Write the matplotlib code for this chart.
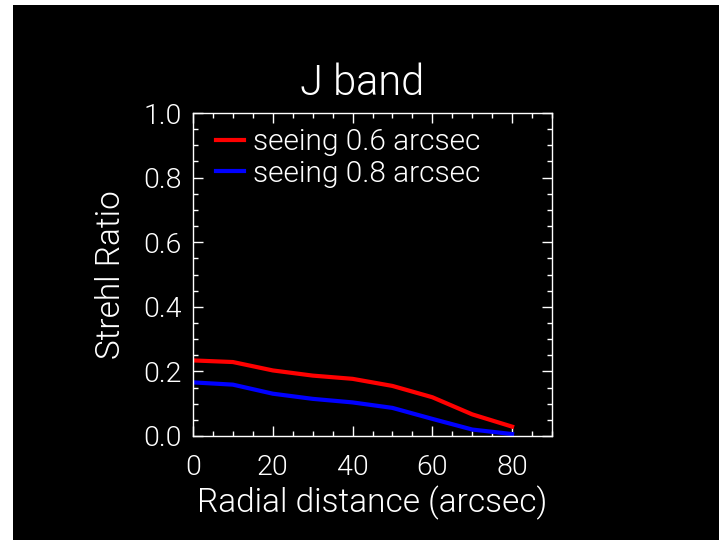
import matplotlib.pyplot as plt
from matplotlib.patches import Rectangle
from matplotlib.ticker import MultipleLocator

# Strehl ratio vs radial distance, J band
radius = [0, 10, 20, 30, 40, 50, 60, 70, 80]
strehl_06 = [0.234, 0.229, 0.203, 0.187, 0.177, 0.155, 0.120, 0.067, 0.029]
strehl_08 = [0.166, 0.159, 0.131, 0.115, 0.104, 0.087, 0.053, 0.020, 0.006]
labels = ['seeing 0.6 arcsec', 'seeing 0.8 arcsec']

plt.rcParams['font.family'] = ['Roboto', 'DejaVu Sans']
plt.rcParams['font.weight'] = 300
plt.rcParams['axes.labelweight'] = 300
plt.rcParams['axes.titleweight'] = 300

fg = 'white'
fs = 20.5

fig = plt.figure(figsize=(7.19, 5.40), dpi=100, facecolor='white')
# black plotting window
fig.patches.append(Rectangle((13 / 719, 0), 1, 1 - 5 / 540, transform=fig.transFigure,
                             facecolor='black', edgecolor='none', zorder=-1))

ax = fig.add_axes([193 / 719, 1 - 436 / 540, 359 / 719, 323 / 540])
ax.set_facecolor('black')

ax.plot(radius, strehl_06, color='#ff0000', lw=3, label=labels[0])
ax.plot(radius, strehl_08, color='#0000ff', lw=3, label=labels[1])

ax.set_xlim(0, 90)
ax.set_ylim(0, 1.0)
ax.xaxis.set_major_locator(MultipleLocator(20))
ax.xaxis.set_minor_locator(MultipleLocator(5))
ax.yaxis.set_major_locator(MultipleLocator(0.2))
ax.yaxis.set_minor_locator(MultipleLocator(0.05))
ax.yaxis.set_major_formatter(plt.FuncFormatter(lambda v, p: f'{v:.1f}'))

for s in ax.spines.values():
    s.set_color(fg)
    s.set_linewidth(1)
ax.tick_params(which='both', direction='in', colors=fg, top=True, right=True, width=1)
ax.tick_params(which='major', length=7, labelsize=fs)
ax.tick_params(which='minor', length=3.5)
ax.tick_params(axis='x', which='major', pad=13)
ax.tick_params(axis='y', which='major', pad=8)

ax.set_xlabel('Radial distance (arcsec)', fontsize=24, color=fg, labelpad=3)
ax.set_ylabel('Strehl Ratio', fontsize=24, color=fg, labelpad=12)
ax.set_title('J band', fontsize=30, color=fg, x=0.471, pad=13)

leg = ax.legend(loc='upper left', bbox_to_anchor=(0.03, 0.99), frameon=False,
                fontsize=21.5, handlelength=0.95, handletextpad=0.3,
                labelspacing=0.12, borderaxespad=0)
for t in leg.get_texts():
    t.set_color(fg)

plt.savefig('out.png', dpi=100, facecolor=fig.get_facecolor())
